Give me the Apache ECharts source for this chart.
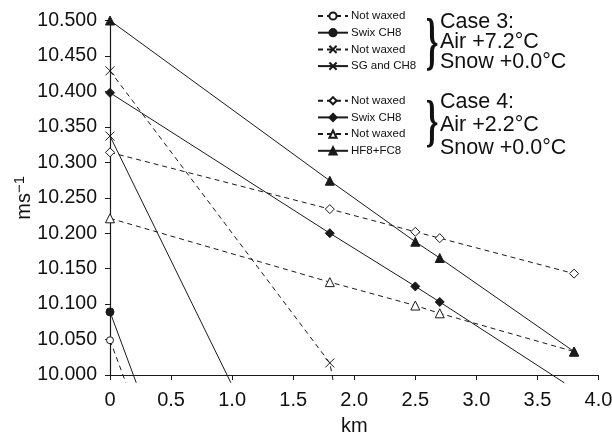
<!DOCTYPE html>
<html lang="en">
<head>
    <meta charset="UTF-8">
    <style>
    html,
    body {
        height: 100%;
        margin: 0;
    }
  </style>
</head>
<body>
<div id="chart" style="width:612px;height:433px;"></div>
<script src="https://cdn.jsdelivr.net/npm/echarts@6/dist/echarts.min.js"></script>
<script>
    // tick labels
    var xTicks = [0, 0.5, 1.0, 1.5, 2.0, 2.5, 3.0, 3.5, 4.0];
    var yTicks = [10.000, 10.050, 10.100, 10.150, 10.200, 10.250, 10.300, 10.350, 10.400, 10.450, 10.500];

    // legend labels
    var case3Labels = ['Not waxed', 'Swix CH8', 'Not waxed', 'SG and CH8'];
    var case4Labels = ['Not waxed', 'Swix CH8', 'Not waxed', 'HF8+FC8'];
    var case3Text = ['Case 3:', 'Air +7.2°C', 'Snow +0.0°C'];
    var case4Text = ['Case 4:', 'Air +2.2°C', 'Snow +0.0°C'];

    // measured points [km, m/s], tail = where the fitted line leaves the plot
    var c3NotWaxedA = [[0, 10.049]];
    var c3NotWaxedATail = [0.13, 9.989];
    var c3SwixCH8 = [[0, 10.089]];
    var c3SwixCH8Tail = [0.215, 9.989];
    var c3NotWaxedB = [[0, 10.429], [1.8, 10.017]];
    var c3NotWaxedBTail = [1.83, 9.989];
    var c3SGCH8 = [[0, 10.337]];
    var c3SGCH8Tail = [0.99, 9.989];

    var c4NotWaxedA = [[0, 10.314], [1.8, 10.234], [2.5, 10.202], [2.7, 10.193], [3.8, 10.143]];
    var c4SwixCH8 = [[0, 10.398], [1.8, 10.200], [2.5, 10.125], [2.7, 10.103]];
    var c4SwixCH8Tail = [3.72, 9.989];
    var c4NotWaxedB = [[0, 10.221], [1.8, 10.131], [2.5, 10.098], [2.7, 10.087], [3.8, 10.033]];
    var c4HF8FC8 = [[0, 10.500], [1.8, 10.274], [2.5, 10.188], [2.7, 10.165], [3.8, 10.033]];

    var crossPath = 'path://M0,0L10,10M10,0L0,10';
    var ink = '#1a1a1a';
    var font = 'Liberation Sans';

    function withTail(pts, tail) {
        var d = pts.slice();
        if (tail) d.push({value: tail, symbol: 'none'});
        return d;
    }

    function mk(name, pts, tail, symbol, size, fill, dashed) {
        return {
            name: name,
            type: 'line',
            clip: false,
            data: withTail(pts, tail),
            symbol: symbol,
            symbolSize: size,
            showAllSymbol: true,
            lineStyle: {color: ink, width: 1, type: dashed ? [5, 4] : 'solid'},
            itemStyle: {color: fill, borderColor: ink, borderWidth: 1},
            emphasis: {disabled: true},
            z: 3
        };
    }

    var none = 'rgba(0,0,0,0)';
    var series = [
        mk('a1', c3NotWaxedA, c3NotWaxedATail, 'circle', 7, '#fff', true),
        mk('a2', c3SwixCH8, c3SwixCH8Tail, 'circle', 8, ink, false),
        mk('a3', c3NotWaxedB, c3NotWaxedBTail, crossPath, 9, none, true),
        mk('a4', c3SGCH8, c3SGCH8Tail, crossPath, 9, none, false),
        mk('b1', c4NotWaxedA, null, 'diamond', 9, '#fff', true),
        mk('b2', c4SwixCH8, c4SwixCH8Tail, 'diamond', 9, ink, false),
        mk('b3', c4NotWaxedB, null, 'triangle', 9, '#fff', true),
        mk('b4', c4HF8FC8, null, 'triangle', 9, ink, false)
    ];

    var labelMap = {};
    ['a1', 'a2', 'a3', 'a4'].forEach(function (n, i) { labelMap[n] = case3Labels[i]; });
    ['b1', 'b2', 'b3', 'b4'].forEach(function (n, i) { labelMap[n] = case4Labels[i]; });

    function legendAt(top, names) {
        return {
            orient: 'vertical',
            left: 317,
            top: top,
            padding: 0,
            itemWidth: 30,
            itemHeight: 9,
            itemGap: 4.7,
            selectedMode: false,
            data: names,
            formatter: function (n) { return labelMap[n]; },
            textStyle: {fontFamily: font, fontSize: 11.5, lineHeight: 12, color: '#111', padding: [0, 0, 0, -2]}
        };
    }

    function caseText(lines, ys) {
        return lines.map(function (t, i) {
            return {
                type: 'text', z: 10,
                style: {x: 440, y: ys[i], text: t, font: '21.5px "Liberation Sans"', fill: '#111', verticalAlign: 'middle'}
            };
        });
    }

    function brace(top, h) {
        return {
            type: 'text', z: 10, x: 432, y: top, scaleX: 0.55, scaleY: h / 52,
            style: {x: 0, y: 0, text: '}', font: 'bold 58px "Liberation Serif"', fill: '#111', align: 'center', verticalAlign: 'top'}
        };
    }

    var graphics = []
        .concat(caseText(case3Text, [22.5, 42.5, 62.5]))
        .concat(caseText(case4Text, [102.5, 125.5, 148.5]))
        .concat([brace(15, 56), brace(97, 51)]);

    var myChart = echarts.init(document.getElementById('chart'));
    myChart.setOption({
        animation: false,
        backgroundColor: '#fff',
        grid: {left: 110, right: 13.5, top: 20.5, bottom: 58, outerBoundsMode: 'none'},
        legend: [legendAt(10, ['a1', 'a2', 'a3', 'a4']), legendAt(94.7, ['b1', 'b2', 'b3', 'b4'])],
        graphic: graphics,
        xAxis: {
            type: 'value',
            min: xTicks[0],
            max: xTicks[xTicks.length - 1],
            interval: 0.5,
            name: 'km',
            nameLocation: 'middle',
            nameGap: 41,
            nameMoveOverlap: false,
            nameTextStyle: {fontFamily: font, fontSize: 20, color: '#111'},
            splitLine: {show: false},
            axisLine: {lineStyle: {color: ink, width: 1.2}},
            axisTick: {lineStyle: {color: ink}, length: 5},
            axisLabel: {
                fontFamily: font, fontSize: 20, color: '#111', margin: 15,
                formatter: function (v) { return v === 0 ? '0' : v.toFixed(1); }
            }
        },
        yAxis: {
            type: 'value',
            min: yTicks[0],
            max: yTicks[yTicks.length - 1],
            interval: 0.05,
            name: 'ms{s|−1}',
            nameLocation: 'middle',
            nameGap: 73,
            nameMoveOverlap: false,
            nameTextStyle: {
                fontFamily: font, fontSize: 20, color: '#111',
                rich: {s: {fontFamily: font, fontSize: 15, verticalAlign: 'top', padding: [0, 0, 10, 0]}}
            },
            splitLine: {show: false},
            axisLine: {lineStyle: {color: ink, width: 1.2}},
            axisTick: {lineStyle: {color: ink}, length: 5},
            axisLabel: {
                fontFamily: font, fontSize: 19.5, color: '#111', margin: 13,
                formatter: function (v) { return v.toFixed(3); }
            }
        },
        series: series
    });
</script>
</body>
</html>
